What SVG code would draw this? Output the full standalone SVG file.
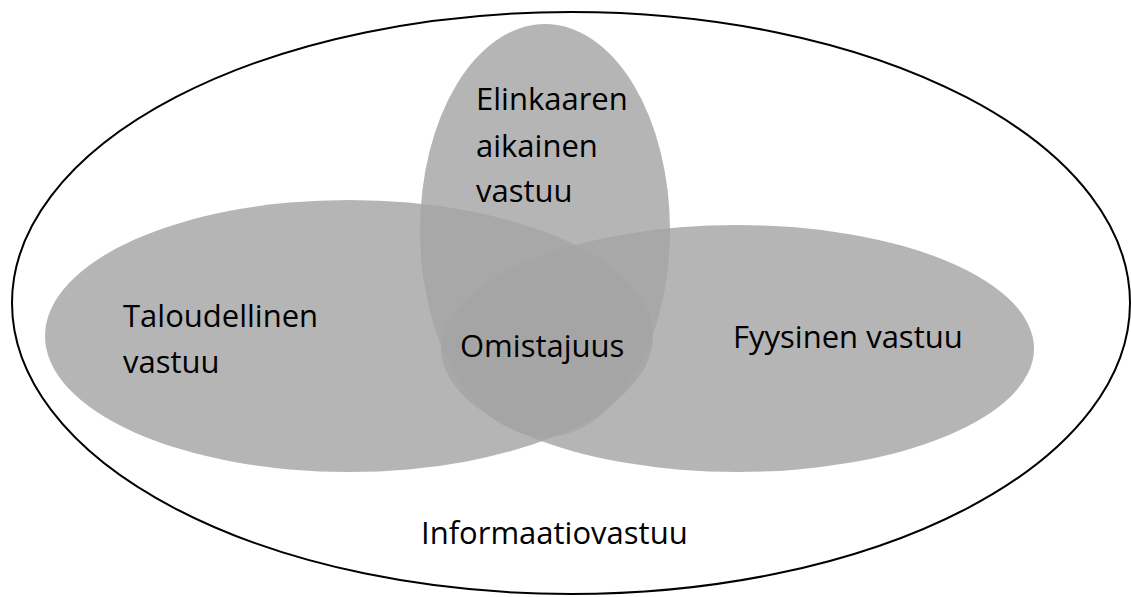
<svg xmlns="http://www.w3.org/2000/svg" width="1131" height="597" viewBox="0 0 1131 597">
  <style>
    .set { fill: #a5a5a5; fill-opacity: 0.82; stroke: none; }
    .outer { fill: #ffffff; stroke: #000000; stroke-width: 2; }
    .lbl { font-family: "Open Sans", Lato, "Noto Sans", "DejaVu Sans", sans-serif; font-size: 31px; fill: #000000; }
  </style>
  <rect x="0" y="0" width="1131" height="597" fill="#ffffff"/>
  <g id="informaatiovastuu">
    <ellipse class="outer" cx="571" cy="303" rx="559" ry="291"/>
    <text class="lbl" x="421" y="544">Informaatiovastuu</text>
  </g>
  <g id="elinkaaren-aikainen-vastuu">
    <ellipse class="set" cx="545" cy="230.5" rx="125" ry="206.5"/>
  </g>
  <g id="taloudellinen-vastuu">
    <ellipse class="set" cx="349" cy="336" rx="304" ry="136"/>
  </g>
  <g id="fyysinen-vastuu">
    <ellipse class="set" cx="737.5" cy="348.5" rx="296.5" ry="123.5"/>
  </g>
  <g id="labels">
    <text class="lbl" x="476" y="110">Elinkaaren</text>
    <text class="lbl" x="476" y="157">aikainen</text>
    <text class="lbl" x="476" y="202">vastuu</text>
    <text class="lbl" x="123" y="327">Taloudellinen</text>
    <text class="lbl" x="123" y="373">vastuu</text>
    <text class="lbl" x="733" y="348">Fyysinen vastuu</text>
  </g>
  <g id="omistajuus">
    <text class="lbl" x="460" y="357">Omistajuus</text>
  </g>
  <g id="connectors"/>
</svg>
